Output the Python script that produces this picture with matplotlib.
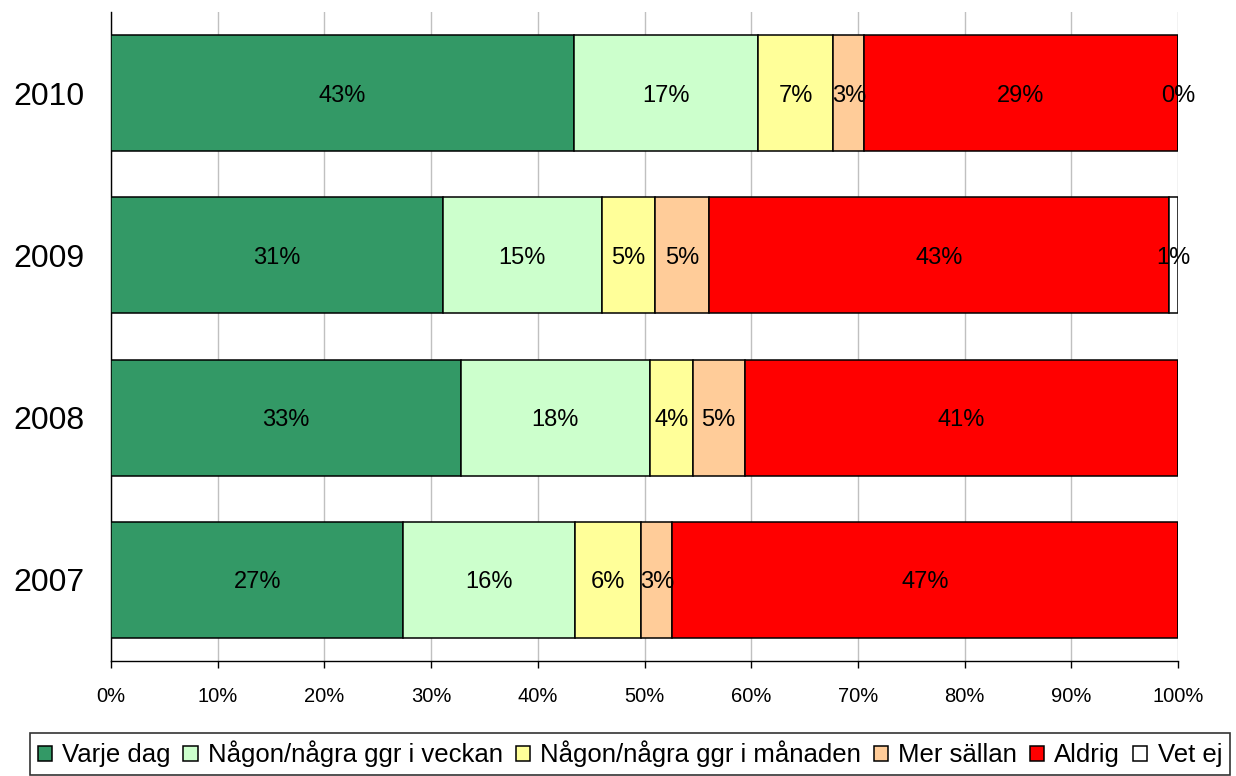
import matplotlib.pyplot as plt
import numpy as np

plt.rcParams['font.family'] = ['Liberation Sans', 'DejaVu Sans']

years = ['2007', '2008', '2009', '2010']
categories = ['Varje dag', 'Någon/några ggr i veckan', 'Någon/några ggr i månaden',
              'Mer sällan', 'Aldrig', 'Vet ej']
colors = ['#339966', '#CCFFCC', '#FFFF99', '#FFCC99', '#FF0000', '#FFFFFF']

# shares in percent, one list per category, order 2007..2010
varje_dag = [27.4, 32.8, 31.1, 43.4]
veckan = [16.1, 17.7, 14.9, 17.2]
manaden = [6.2, 4.0, 5.0, 7.1]
mer_sallan = [2.9, 4.9, 5.0, 2.9]
aldrig = [47.4, 40.6, 43.2, 29.37]
vet_ej = [0.0, 0.0, 0.8, 0.03]

series = [varje_dag, veckan, manaden, mer_sallan, aldrig, vet_ej]

fig = plt.figure(figsize=(12.36, 7.76), dpi=100)
ax = fig.add_axes([0.0898, 0.1482, 0.8633, 0.8363])

y = np.arange(len(years))
left = np.zeros(len(years))
for name, vals, col in zip(categories, series, colors):
    vals = np.array(vals)
    ax.barh(y, vals, left=left, height=0.715, color=col, edgecolor='black',
            linewidth=1.1, label=name, zorder=3)
    for yi, l, v in zip(y, left, vals):
        if v > 0:
            ax.text(l + v / 2, yi, '{:.0f}%'.format(v), ha='center',
                    va='center_baseline', fontsize=17, zorder=4)
    left = left + vals

ax.set_xlim(0, 100)
ax.set_ylim(-0.5, 3.5)
ax.set_xticks(np.arange(0, 101, 10))
ax.set_xticklabels(['{}%'.format(t) for t in range(0, 101, 10)], fontsize=14.5)
ax.set_yticks(y)
ax.set_yticklabels(years, fontsize=23)
ax.tick_params(axis='y', length=0, pad=19)
ax.tick_params(axis='x', direction='out', length=5, width=1, pad=14)
ax.grid(axis='x', color='#c0c0c0', linewidth=1, zorder=0)
for s in ['top', 'right']:
    ax.spines[s].set_visible(False)
ax.spines['left'].set_linewidth(1)
ax.spines['bottom'].set_linewidth(1)

leg = fig.legend(loc='upper left', bbox_to_anchor=(30 / 1236, 1 - 733 / 776),
                 ncol=6, fontsize=18.5, frameon=True, fancybox=False,
                 edgecolor='black', handlelength=0.55, handleheight=0.55,
                 handletextpad=0.4, columnspacing=0.5, borderpad=0.3,
                 borderaxespad=0)
leg.get_frame().set_linewidth(1.2)

fig.savefig('out.png', dpi=100)
